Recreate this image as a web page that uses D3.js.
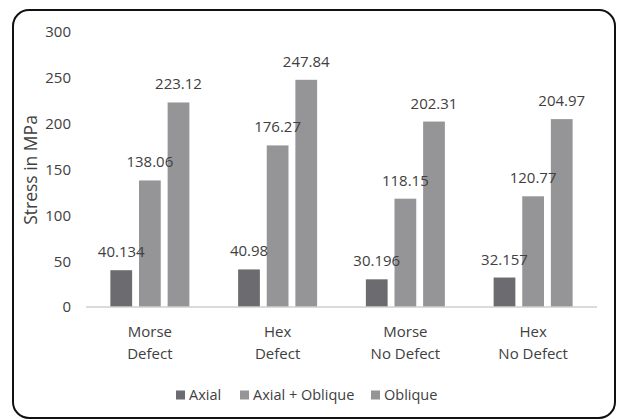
<!DOCTYPE html>
<html>
<head>
<meta charset="UTF-8">
<script src="https://d3js.org/d3.v7.min.js"></script>
<style>
  body { margin: 0; background: #fff; }
  text { font-family: "Open Sans", sans-serif; fill: #404040; }
</style>
</head>
<body>
<svg id="svg" width="618" height="420"></svg>
<script>
var categories = [["Morse", "Defect"], ["Hex", "Defect"], ["Morse", "No Defect"], ["Hex", "No Defect"]];
var series = ["Axial", "Axial + Oblique", "Oblique"];
var axial = [40.134, 40.98, 30.196, 32.157];
var axialOblique = [138.06, 176.27, 118.15, 120.77];
var oblique = [223.12, 247.84, 202.31, 204.97];
var labels = [["40.134", "138.06", "223.12"], ["40.98", "176.27", "247.84"], ["30.196", "118.15", "202.31"], ["32.157", "120.77", "204.97"]];
var yTicks = [0, 50, 100, 150, 200, 250, 300];
var colors = ["#6c6c70", "#959598", "#959598"];

var svg = d3.select("svg");

// rounded frame
svg.append("rect")
  .attr("x", 13).attr("y", 10)
  .attr("width", 602).attr("height", 408)
  .attr("rx", 16).attr("ry", 16)
  .style("fill", "white")
  .style("stroke", "#111")
  .style("stroke-width", 2);

var y = d3.scaleLinear().domain([0, 300]).range([307, 32]);
var x = d3.scaleBand().domain(d3.range(categories.length)).range([86, 597]).paddingInner(0).paddingOuter(0);
var xs = d3.scaleBand().domain(series).range([0, 79]).paddingInner(0.24);

var values = [axial, axialOblique, oblique];
var rows = categories.map(function(c, i) {
  return series.map(function(s, j) { return { cat: i, s: s, j: j, v: values[j][i], label: labels[i][j] }; });
});

// y tick labels
svg.selectAll(".ytick")
  .data(yTicks)
  .enter().append("text")
  .attr("x", 71)
  .attr("y", function(d) { return y(d); })
  .attr("dy", "0.36em")
  .attr("text-anchor", "end")
  .style("font-size", "15px")
  .text(function(d) { return d; });

// axis title
svg.append("text")
  .attr("transform", "translate(37,170) rotate(-90)")
  .attr("text-anchor", "middle")
  .style("font-size", "17.5px")
  .text("Stress in MPa");

// bars
var groups = svg.selectAll(".grp")
  .data(rows)
  .enter().append("g")
  .attr("transform", function(d, i) { return "translate(" + (x(i) + x.bandwidth() / 2 - 39.5) + ",0)"; });

groups.selectAll("rect")
  .data(function(d) { return d; })
  .enter().append("rect")
  .attr("x", function(d) { return xs(d.s); })
  .attr("y", function(d) { return y(d.v); })
  .attr("width", xs.bandwidth())
  .attr("height", function(d) { return y(0) - y(d.v); })
  .style("fill", function(d) { return colors[d.j]; });

groups.selectAll("text")
  .data(function(d) { return d; })
  .enter().append("text")
  .attr("x", function(d) { return xs(d.s) + xs.bandwidth() / 2; })
  .attr("y", function(d) { return y(d.v) - 13; })
  .attr("text-anchor", "middle")
  .style("font-size", "15px")
  .text(function(d) { return d.label; });

// x axis line
svg.append("line")
  .attr("x1", 86).attr("x2", 597)
  .attr("y1", y(0)).attr("y2", y(0))
  .style("stroke", "#cfcfcf")
  .style("stroke-width", 1.5);

// category labels
var cl = svg.selectAll(".cat")
  .data(categories)
  .enter().append("text")
  .attr("text-anchor", "middle")
  .style("font-size", "15px");
cl.append("tspan")
  .attr("x", function(d, i) { return x(i) + x.bandwidth() / 2; })
  .attr("y", 337)
  .text(function(d) { return d[0]; });
cl.append("tspan")
  .attr("x", function(d, i) { return x(i) + x.bandwidth() / 2; })
  .attr("y", 359)
  .text(function(d) { return d[1]; });

// legend
var legendX = [176, 240, 371];
var lg = svg.selectAll(".leg")
  .data(series)
  .enter().append("g")
  .attr("transform", function(d, i) { return "translate(" + legendX[i] + ",395)"; });
lg.append("rect")
  .attr("x", 0).attr("y", -4.5)
  .attr("width", 9).attr("height", 9)
  .style("fill", function(d, i) { return colors[i]; });
lg.append("text")
  .attr("x", 13)
  .attr("dy", "0.36em")
  .style("font-size", "14.5px")
  .text(function(d) { return d; });
</script>
</body>
</html>
